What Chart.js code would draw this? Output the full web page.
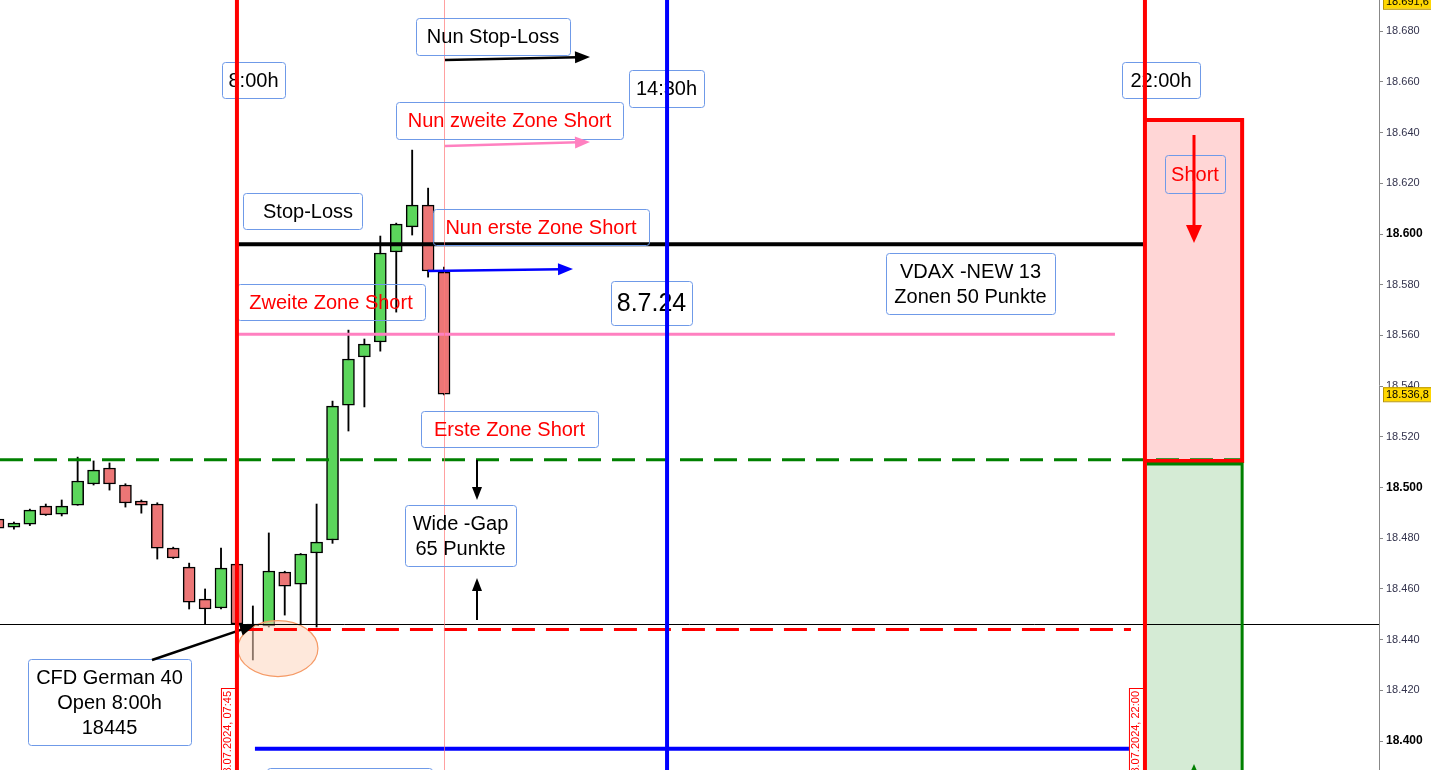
<!DOCTYPE html>
<html>
<head>
<meta charset="utf-8">
<script src="https://cdn.jsdelivr.net/npm/chart.js@4/dist/chart.umd.min.js"></script>
<style>
html,body{margin:0;padding:0;background:#fff}
#wrap{width:1431px;height:770px}
</style>
</head>
<body>
<div id="wrap"><canvas id="c"></canvas></div>
<script>
// 15 min candles, 08.07.2024
const times = ["04:00","04:15","04:30","04:45","05:00","05:15","05:30","05:45","06:00","06:15",
  "06:30","06:45","07:00","07:15","07:30","07:45","08:00","08:15","08:30","08:45",
  "09:00","09:15","09:30","09:45","10:00","10:15","10:30","10:45","11:00"];
const open  = [18487.6,18484.4,18485.6,18492.7,18489.5,18493.1,18501.4,18507.7,18501.0,18494.7,
  18493.5,18476.1,18468.6,18456.0,18452.5,18469.8,18446.2,18445.4,18466.7,18461.9,
  18474.2,18479.3,18532.5,18551.5,18557.4,18592.9,18602.8,18611.4,18585.0];
const high  = [18488.0,18486.4,18491.5,18493.5,18495.1,18512.0,18510.5,18509.7,18501.5,18495.1,
  18494.0,18476.5,18470.2,18460.0,18476.1,18470.2,18453.3,18482.1,18467.0,18474.0,
  18493.5,18534.1,18562.1,18558.6,18599.2,18604.3,18633.1,18618.1,18587.0];
const low   = [18483.5,18483.6,18485.0,18489.0,18488.8,18493.0,18501.0,18499.0,18492.3,18489.9,
  18471.8,18472.0,18452.1,18446.2,18452.1,18445.8,18432.0,18445.0,18449.7,18446.2,
  18445.0,18478.0,18522.3,18531.8,18553.8,18569.2,18599.6,18583.0,18536.5];
const close = [18484.0,18486.0,18491.1,18489.2,18492.7,18502.6,18506.9,18501.4,18493.9,18493.1,
  18476.1,18472.2,18454.8,18452.1,18468.2,18446.2,18445.4,18467.1,18461.1,18473.8,
  18478.5,18532.1,18550.7,18556.6,18592.5,18603.9,18611.4,18585.4,18536.8];

// levels (price) and time markers (bar index)
const stopLoss = 18596, zone2 = 18560.5, zone1 = 18511, cfdOpen = 18444, cursorPrice = 18446.2, lowLine = 18397;
const shortTop = 18645, shortBottom = 18510.5, longTop = 18509.3;
const idx0745 = 15, idx1430 = 42, idx2200 = 72, idxCursor = 28, idxBoxEnd = 78.1;
const lastPrice = 18536.8, topPrice = 18691.6;

const GREEN = '#5bd65b', RED = '#ec7676';

const bodies = times.map((t,i)=>({x:i, y:[Math.min(open[i],close[i]), Math.max(open[i],close[i])]}));
const wicks = times.map((t,i)=>({x:i, y:[low[i], high[i]]}));
const bodyColors = times.map((t,i)=> close[i] >= open[i] ? GREEN : RED);

function fmtPrice(v, dec){
  const s = v.toFixed(dec).split('.');
  const intp = s[0].replace(/\B(?=(\d{3})+(?!\d))/g, '.');
  return dec ? intp + ',' + s[1] : intp;
}

function arrow(ctx, x1, y1, x2, y2, color, w, hl, hw){
  const a = Math.atan2(y2-y1, x2-x1);
  ctx.save();
  ctx.strokeStyle = color; ctx.fillStyle = color; ctx.lineWidth = w;
  ctx.beginPath(); ctx.moveTo(x1,y1);
  ctx.lineTo(x2 - Math.cos(a)*hl*0.8, y2 - Math.sin(a)*hl*0.8); ctx.stroke();
  ctx.translate(x2,y2); ctx.rotate(a);
  ctx.beginPath(); ctx.moveTo(0,0); ctx.lineTo(-hl, -hw/2); ctx.lineTo(-hl, hw/2); ctx.closePath(); ctx.fill();
  ctx.restore();
}

function hline(ctx, x1, x2, y, color, w, dash){
  ctx.save();
  ctx.strokeStyle = color; ctx.lineWidth = w;
  ctx.setLineDash(dash || []);
  ctx.beginPath(); ctx.moveTo(x1,y); ctx.lineTo(x2,y); ctx.stroke();
  ctx.restore();
}

function vline(ctx, x, y1, y2, color, w){
  ctx.save();
  ctx.strokeStyle = color; ctx.lineWidth = w;
  ctx.beginPath(); ctx.moveTo(x,y1); ctx.lineTo(x,y2); ctx.stroke();
  ctx.restore();
}

function rrect(ctx, x, y, w, h, r){
  ctx.beginPath();
  ctx.moveTo(x+r,y); ctx.lineTo(x+w-r,y); ctx.quadraticCurveTo(x+w,y,x+w,y+r);
  ctx.lineTo(x+w,y+h-r); ctx.quadraticCurveTo(x+w,y+h,x+w-r,y+h);
  ctx.lineTo(x+r,y+h); ctx.quadraticCurveTo(x,y+h,x,y+h-r);
  ctx.lineTo(x,y+r); ctx.quadraticCurveTo(x,y,x+r,y); ctx.closePath();
}

// text boxes: x, y, w, h, lines, colour, size
const notes = [
  [222, 62, 63, 36, ["8:00h"], '#000', 20],
  [416, 18, 154, 37, ["Nun Stop-Loss"], '#000', 20],
  [629, 70, 75, 37, ["14:30h"], '#000', 20],
  [396, 102, 227, 37, ["Nun zweite Zone Short"], '#f00', 20],
  [1122, 62, 78, 36, ["22:00h"], '#000', 20],
  [1165, 155, 60, 38, ["Short"], '#f00', 20],
  [243, 193, 119, 36, ["  Stop-Loss"], '#000', 20],
  [433, 209, 216, 36, ["Nun erste Zone Short"], '#f00', 20],
  [237, 284, 188, 36, ["Zweite Zone Short"], '#f00', 20],
  [611, 281, 81, 44, ["8.7.24"], '#000', 25],
  [886, 253, 169, 61, ["VDAX -NEW 13", "Zonen 50 Punkte"], '#000', 20],
  [421, 411, 177, 36, ["Erste Zone Short"], '#f00', 20],
  [405, 505, 111, 61, ["Wide -Gap", "65 Punkte"], '#000', 20],
  [28, 659, 163, 86, ["CFD German 40", "Open 8:00h", "18445"], '#000', 20],
  [267, 768, 165, 30, [], '#000', 20]
];

const overlay = {
  id: 'overlay',
  afterDraw(chart){
    const ctx = chart.ctx, xs = chart.scales.x, ys = chart.scales.y, ca = chart.chartArea;
    const X = v => xs.getPixelForValue(v), Y = v => ys.getPixelForValue(v);
    const H = chart.height;

    // signal boxes
    ctx.save();
    ctx.fillStyle = '#ffd6d6';
    ctx.fillRect(X(idx2200), Y(shortTop), X(idxBoxEnd)-X(idx2200), Y(shortBottom)-Y(shortTop));
    ctx.fillStyle = '#d5ebd5';
    ctx.fillRect(X(idx2200), Y(longTop), X(idxBoxEnd)-X(idx2200), H - Y(longTop) + 5);
    ctx.restore();

    // gap ellipse
    ctx.save();
    ctx.beginPath(); ctx.ellipse(X(idx0745)+41, Y(cfdOpen)+19, 40, 28, 0, 0, Math.PI*2);
    ctx.fillStyle = 'rgba(253,214,190,0.55)'; ctx.fill();
    ctx.strokeStyle = '#f59a66'; ctx.lineWidth = 1.2; ctx.stroke();
    ctx.restore();

    // levels
    hline(ctx, ca.left, X(idxBoxEnd), Y(zone1), '#008000', 3, [23, 11]);
    hline(ctx, X(idx0745)+3, X(idx2200)-14, Y(cfdOpen), '#ff0000', 3, [23, 11]);
    hline(ctx, X(idx0745), X(idx2200), Y(stopLoss), '#000', 4);
    hline(ctx, X(idx0745), X(idx2200)-30, Y(zone2), '#ff80c0', 3);
    hline(ctx, X(idx0745)+18, X(idx2200)-14, Y(lowLine), '#0000ff', 4);
    hline(ctx, ca.left, ca.right, Math.round(Y(cursorPrice))+0.5, '#000', 1);
    vline(ctx, Math.round(X(idxCursor))+0.5, 0, H, 'rgba(255,120,120,0.7)', 1);

    // text boxes
    ctx.save();
    notes.forEach(n => {
      const [x,y,w,h,lines,col,sz] = n;
      rrect(ctx, x+0.5, y+0.5, w, h, 3);
      ctx.strokeStyle = '#6f9ae8'; ctx.lineWidth = 1; ctx.stroke();
      ctx.fillStyle = col;
      ctx.font = sz + 'px "Liberation Sans", Arial, sans-serif';
      ctx.textAlign = 'center'; ctx.textBaseline = 'middle';
      const lh = 25, top = y + h/2 - (lines.length-1)*lh/2 + 1;
      lines.forEach((s,k) => ctx.fillText(s, x + w/2, top + k*lh));
    });
    ctx.restore();

    // arrows
    arrow(ctx, 445, 60, 590, 57, '#000', 2.5, 15, 12);
    arrow(ctx, 445, 146, 590, 142, '#ff80c0', 2.5, 15, 12);
    arrow(ctx, 428, 271, 573, 269, '#0000ff', 2.5, 15, 12);
    arrow(ctx, 477, 460, 477, 500, '#000', 2, 13, 10);
    arrow(ctx, 477, 620, 477, 578, '#000', 2, 13, 10);
    arrow(ctx, 152, 660, 255, 625, '#000', 2.5, 15, 12);
    arrow(ctx, 1194, 135, 1194, 243, '#ff0000', 3, 18, 16);
    arrow(ctx, 1194, 800, 1194, 764, '#008000', 3, 18, 16);

    // time markers
    vline(ctx, X(idx0745), 0, H, '#ff0000', 4);
    vline(ctx, X(idx1430), 0, H, '#0000ff', 4);
    vline(ctx, X(idx2200), 0, H, '#ff0000', 4);

    // box borders
    ctx.save();
    ctx.strokeStyle = '#ff0000'; ctx.lineWidth = 4;
    ctx.beginPath();
    ctx.moveTo(X(idx2200), Y(shortTop)); ctx.lineTo(X(idxBoxEnd), Y(shortTop));
    ctx.lineTo(X(idxBoxEnd), Y(shortBottom)); ctx.lineTo(X(idx2200), Y(shortBottom));
    ctx.stroke();
    ctx.strokeStyle = '#008000'; ctx.lineWidth = 3;
    ctx.beginPath();
    ctx.moveTo(X(idx2200)+2, Y(longTop)); ctx.lineTo(X(idxBoxEnd), Y(longTop)); ctx.lineTo(X(idxBoxEnd), H+5);
    ctx.stroke();
    ctx.restore();

    // vertical date labels
    [[idx0745, "08.07.2024, 07:45"], [idx2200, "08.07.2024, 22:00"]].forEach(d => {
      const xr = X(d[0]) - 2;
      ctx.save();
      ctx.fillStyle = '#fff'; ctx.fillRect(xr-14, 688, 14, 100);
      ctx.strokeStyle = '#ff0000'; ctx.lineWidth = 1; ctx.strokeRect(xr-14+0.5, 688.5, 14, 100);
      ctx.translate(xr-7, 691); ctx.rotate(-Math.PI/2);
      ctx.fillStyle = '#ff0000'; ctx.font = '11px "Liberation Sans", Arial, sans-serif';
      ctx.textAlign = 'right'; ctx.textBaseline = 'middle';
      ctx.fillText(d[1], 0, 0);
      ctx.restore();
    });

    // price tags
    [[lastPrice, Y(lastPrice)], [topPrice, Y(topPrice)]].forEach(p => {
      const y = Math.max(p[1], -2);
      ctx.save();
      ctx.fillStyle = '#ffd700'; ctx.fillRect(ca.right+4, y-7, 48, 14);
      ctx.strokeStyle = '#b89400'; ctx.lineWidth = 1; ctx.strokeRect(ca.right+4.5, y-6.5, 48, 14);
      ctx.fillStyle = '#000'; ctx.font = '11px "Liberation Sans", Arial, sans-serif';
      ctx.textAlign = 'left'; ctx.textBaseline = 'middle';
      ctx.fillText(fmtPrice(p[0], 1), ca.right+7, y+0.5);
      ctx.restore();
    });
  }
};

const isMajor = c => c.tick && Math.round(c.tick.value) % 100 === 0;

new Chart(document.getElementById('c'), {
  type: 'bar',
  data: {
    labels: times,
    datasets: [
      {
        label: 'Docht',
        data: wicks,
        backgroundColor: '#000',
        borderWidth: 0,
        barThickness: 1.2,
        grouped: false,
        order: 2
      },
      {
        label: 'CFD German 40',
        data: bodies,
        backgroundColor: bodyColors,
        borderColor: '#000',
        borderWidth: 1.5,
        borderSkipped: false,
        barThickness: 12,
        grouped: false,
        order: 1
      }
    ]
  },
  options: {
    responsive: true,
    maintainAspectRatio: false,
    animation: false,
    layout: { padding: 0 },
    plugins: { legend: { display: false }, tooltip: { enabled: false } },
    scales: {
      x: {
        type: 'linear',
        display: false,
        offset: false,
        min: 0.126,
        max: 0.126 + 1379 / 15.93
      },
      y: {
        position: 'right',
        min: 18388.6,
        max: 18692.3,
        afterFit: s => { s.width = 52; s.paddingTop = 0; s.paddingBottom = 0; },
        border: { display: true, color: '#888', width: 1 },
        grid: { drawOnChartArea: false, tickLength: 4, color: '#888' },
        ticks: {
          stepSize: 20,
          includeBounds: false,
          padding: 3,
          callback: v => fmtPrice(v, 0),
          color: c => isMajor(c) ? '#000' : '#33334d',
          font: c => isMajor(c)
            ? { family: '"Liberation Sans", Arial, sans-serif', size: 12, weight: 'bold' }
            : { family: '"Liberation Sans", Arial, sans-serif', size: 11 }
        }
      }
    }
  },
  plugins: [overlay]
});
</script>
</body>
</html>
